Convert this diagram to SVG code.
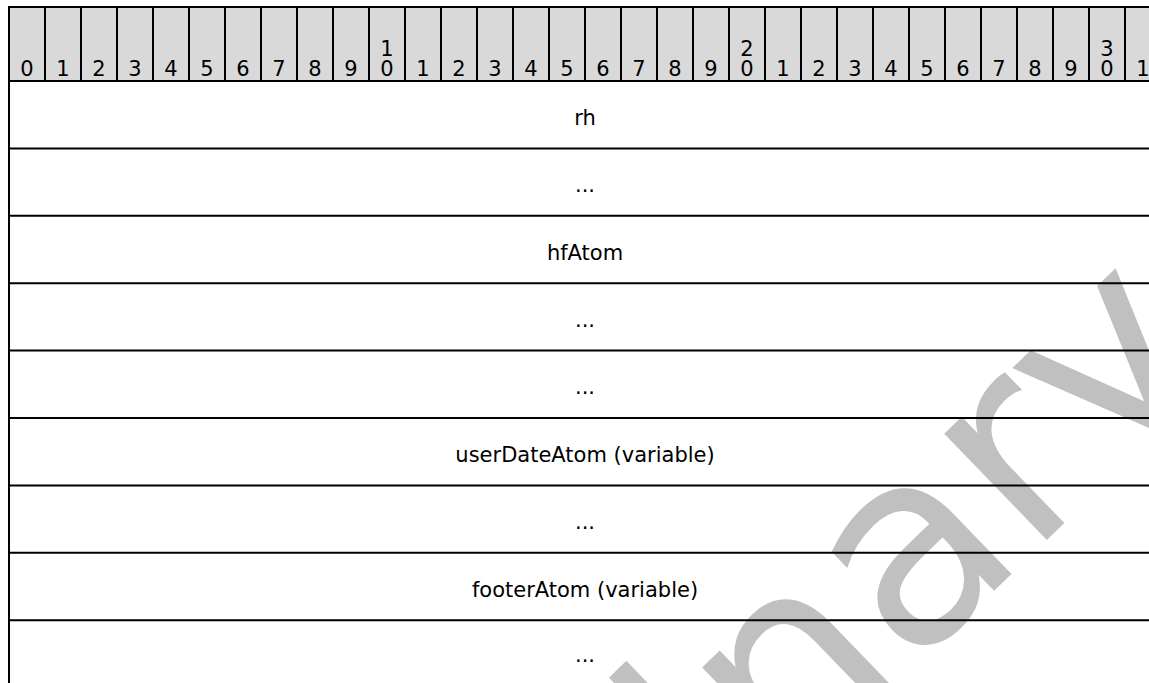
<svg xmlns="http://www.w3.org/2000/svg" width="1149" height="683" viewBox="0 0 1149 683">
<style>
.t{font-family:"DejaVu Sans",Verdana,sans-serif;font-size:21px;fill:#000;text-anchor:middle}
.ln{stroke:#000;stroke-width:2;fill:none}
.wm{font-family:"DejaVu Sans",Verdana,sans-serif;font-size:270px;fill:#c0c0c0}
</style>
<rect x="0" y="0" width="1149" height="683" fill="#fff"/>
<g id="watermark"><text class="wm" transform="translate(127.2 1428) rotate(-44)" x="0" y="0">Preliminary</text></g>
<g id="header">
<rect x="9" y="7" width="1152" height="74" fill="#d9d9d9"/>
<g class="t">
<text x="27" y="75.5">0</text><text x="63" y="75.5">1</text><text x="99" y="75.5">2</text><text x="135" y="75.5">3</text><text x="171" y="75.5">4</text><text x="207" y="75.5">5</text><text x="243" y="75.5">6</text><text x="279" y="75.5">7</text><text x="315" y="75.5">8</text><text x="351" y="75.5">9</text>
<text x="387" y="55.5">1</text><text x="387" y="75.5">0</text>
<text x="423" y="75.5">1</text><text x="459" y="75.5">2</text><text x="495" y="75.5">3</text><text x="531" y="75.5">4</text><text x="567" y="75.5">5</text><text x="603" y="75.5">6</text><text x="639" y="75.5">7</text><text x="675" y="75.5">8</text><text x="711" y="75.5">9</text>
<text x="747" y="55.5">2</text><text x="747" y="75.5">0</text>
<text x="783" y="75.5">1</text><text x="819" y="75.5">2</text><text x="855" y="75.5">3</text><text x="891" y="75.5">4</text><text x="927" y="75.5">5</text><text x="963" y="75.5">6</text><text x="999" y="75.5">7</text><text x="1035" y="75.5">8</text><text x="1071" y="75.5">9</text>
<text x="1107" y="55.5">3</text><text x="1107" y="75.5">0</text>
<text x="1143" y="75.5">1</text>
</g>
<path class="ln" d="M45 7V81M81 7V81M117 7V81M153 7V81M189 7V81M225 7V81M261 7V81M297 7V81M333 7V81M369 7V81M405 7V81M441 7V81M477 7V81M513 7V81M549 7V81M585 7V81M621 7V81M657 7V81M693 7V81M729 7V81M765 7V81M801 7V81M837 7V81M873 7V81M909 7V81M945 7V81M981 7V81M1017 7V81M1053 7V81M1089 7V81M1125 7V81"/>
<path class="ln" d="M8 7H1149"/>
</g>
<g id="connectors">
<path class="ln" d="M9 6V683"/>
<path class="ln" d="M8 81H1149M8 148.4H1149M8 215.8H1149M8 283.2H1149M8 350.6H1149M8 418H1149M8 485.4H1149M8 552.8H1149M8 620.2H1149"/>
</g>
<g id="row-rh"><text class="t" x="585" y="124.7">rh</text></g>
<g id="row-2"><text class="t" x="585" y="192.1">...</text></g>
<g id="row-hfAtom"><text class="t" x="585" y="259.5">hfAtom</text></g>
<g id="row-4"><text class="t" x="585" y="326.9">...</text></g>
<g id="row-5"><text class="t" x="585" y="394.3">...</text></g>
<g id="row-userDateAtom"><text class="t" x="585" y="461.7">userDateAtom (variable)</text></g>
<g id="row-7"><text class="t" x="585" y="529.1">...</text></g>
<g id="row-footerAtom"><text class="t" x="585" y="596.5">footerAtom (variable)</text></g>
<g id="row-9"><text class="t" x="585" y="661.5">...</text></g>
</svg>
